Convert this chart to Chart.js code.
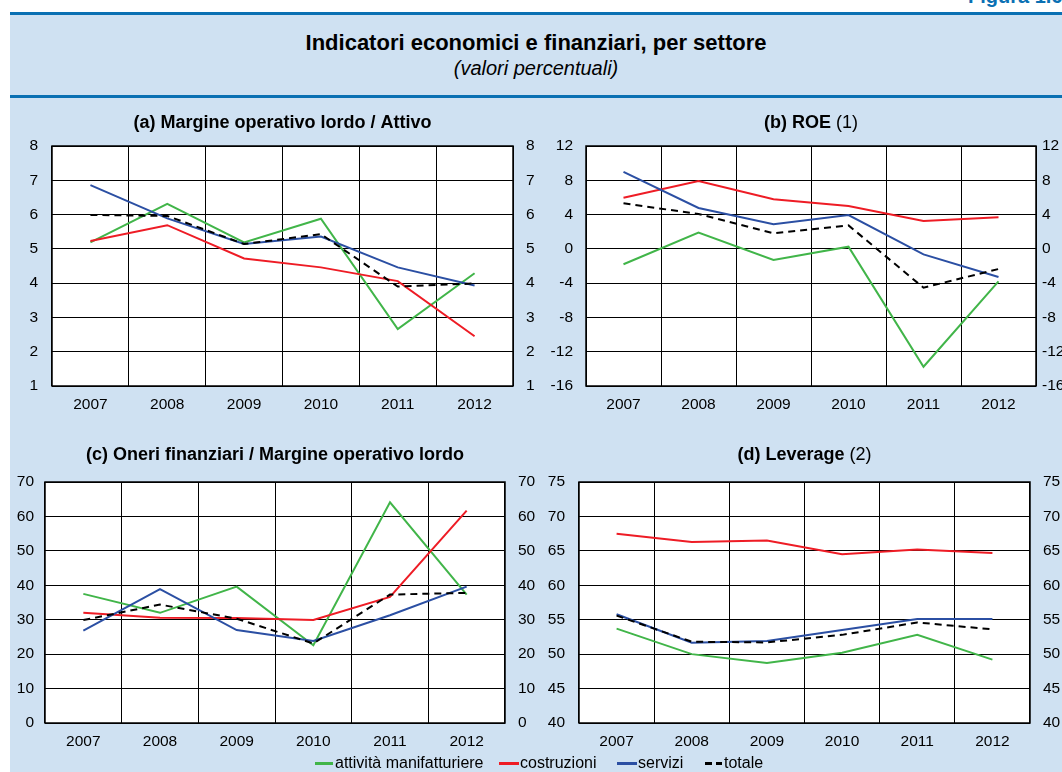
<!DOCTYPE html>
<html>
<head>
<meta charset="utf-8">
<script src="https://cdn.jsdelivr.net/npm/chart.js@4.4.0/dist/chart.umd.min.js"></script>
<style>
    body { margin: 0; width: 1062px; height: 772px; overflow: hidden; background: #fff; position: relative; font-family: "Liberation Sans", Arial, sans-serif; }
    #bg { position: absolute; left: 10px; top: 12px; width: 1052px; height: 760px; background: #cfe1f2; border-top: 3px solid #0a70b3; box-sizing: border-box; }
    #sep { position: absolute; left: 10px; top: 95px; width: 1052px; height: 3px; background: #0a70b3; }
    #fig { position: absolute; left: 968px; top: -15px; font-weight: bold; font-size: 20px; color: #0a70b3; white-space: nowrap; }
    #title { position: absolute; left: 10px; width: 1052px; top: 30px; text-align: center; font-weight: bold; font-size: 22px; line-height: 26px; color: #000; }
    #subtitle { position: absolute; left: 10px; width: 1052px; top: 56px; text-align: center; font-style: italic; font-size: 20px; line-height: 24px; color: #000; }
    canvas { position: absolute; }
    .sw { position: absolute; top: 762px; height: 3px; }
    .lt { position: absolute; top: 754px; font-size: 16px; line-height: 18px; color: #000; white-space: nowrap; }
</style>
</head>
<body>
<div id="bg"></div>
<div id="sep"></div>
<div id="fig">Figura 1.6</div>
<div id="title">Indicatori economici e finanziari, per settore</div>
<div id="subtitle">(valori percentuali)</div>

<canvas id="chartA" width="550" height="320" style="left:0px; top:100px;"></canvas>
<canvas id="chartB" width="542" height="320" style="left:520px; top:100px;"></canvas>
<canvas id="chartC" width="550" height="330" style="left:0px; top:430px;"></canvas>
<canvas id="chartD" width="542" height="330" style="left:520px; top:430px;"></canvas>

<div class="sw" style="left:315px; width:18px; background:#41b549;"></div>
<div class="lt" style="left:335px;">attività manifatturiere</div>
<div class="sw" style="left:499px; width:20px; background:#ee1c25;"></div>
<div class="lt" style="left:520px;">costruzioni</div>
<div class="sw" style="left:617px; width:20px; background:#2b4fa3;"></div>
<div class="lt" style="left:638px;">servizi</div>
<div class="sw" style="left:705px; width:7px; background:#000;"></div>
<div class="sw" style="left:716px; width:6px; background:#000;"></div>
<div class="lt" style="left:724px;">totale</div>

<script>
// Categories and series names
const years = ["2007", "2008", "2009", "2010", "2011", "2012"];
const seriesNames = ["attività manifatturiere", "costruzioni", "servizi", "totale"];

// (a) Margine operativo lordo / Attivo
const molManif = [5.19, 6.31, 5.19, 5.88, 2.66, 4.29];
const molCostr = [5.23, 5.69, 4.72, 4.46, 4.06, 2.45];
const molServ = [6.86, 5.89, 5.14, 5.36, 4.46, 3.93];
const molTot = [5.99, 5.96, 5.14, 5.43, 3.90, 3.99];

// (b) ROE
const roeManif = [-1.8, 1.9, -1.3, 0.25, -13.75, -3.8];
const roeCostr = [5.97, 7.92, 5.78, 5.0, 3.25, 3.68];
const roeServ = [8.97, 4.77, 2.86, 3.95, -0.64, -3.29];
const roeTot = [5.31, 4.07, 1.81, 2.74, -4.53, -2.35];

// (c) Oneri finanziari / Margine operativo lordo
const onManif = [37.5, 32.0, 39.6, 22.6, 64.1, 37.3];
const onCostr = [32.0, 30.6, 30.5, 29.9, 36.6, 61.7];
const onServ = [26.8, 38.9, 27.0, 23.8, 31.3, 39.6];
const onTot = [29.9, 34.4, 30.3, 23.1, 37.3, 37.8];

// (d) Leverage
const levManif = [53.7, 50.0, 48.7, 50.2, 52.8, 49.2];
const levCostr = [67.5, 66.3, 66.5, 64.5, 65.2, 64.7];
const levServ = [55.8, 51.65, 51.9, 53.5, 55.1, 55.1];
const levTot = [55.6, 51.8, 51.7, 52.8, 54.6, 53.6];

const colors = ["#41b549", "#ee1c25", "#2b4fa3", "#000000"];

Chart.defaults.font.family = '"Liberation Sans", Arial, sans-serif';
Chart.defaults.font.size = 15.5;
Chart.defaults.color = "#000";

// White plot area with black frame, plus the panel title
function panelPlugin(titleParts, titleY) {
    return {
        id: "panel",
        beforeDraw(chart) {
            const a = chart.chartArea;
            const ctx = chart.ctx;
            ctx.save();
            ctx.fillStyle = "#fff";
            ctx.fillRect(a.left, a.top, a.right - a.left, a.bottom - a.top);
            ctx.restore();
        },
        afterDraw(chart) {
            const a = chart.chartArea;
            const ctx = chart.ctx;
            ctx.save();
            ctx.strokeStyle = "#000";
            ctx.lineWidth = 1.5;
            ctx.strokeRect(a.left, a.top, a.right - a.left, a.bottom - a.top);

            // Title, centred over the plot area
            const fam = '"Liberation Sans", Arial, sans-serif';
            let total = 0;
            const widths = titleParts.map((p) => {
                ctx.font = (p.bold ? "bold " : "") + "18px " + fam;
                const w = ctx.measureText(p.text).width;
                total += w;
                return w;
            });
            let x = (a.left + a.right) / 2 - total / 2;
            ctx.fillStyle = "#000";
            ctx.textBaseline = "middle";
            ctx.textAlign = "left";
            titleParts.forEach((p, i) => {
                ctx.font = (p.bold ? "bold " : "") + "18px " + fam;
                ctx.fillText(p.text, x, titleY);
                x += widths[i];
            });
            ctx.restore();
        },
    };
}

function makePanel(id, cfg) {
    const datasets = cfg.values.map((v, i) => ({
        label: seriesNames[i],
        data: v,
        borderColor: colors[i],
        backgroundColor: colors[i],
        borderWidth: 2,
        borderDash: i === 3 ? [7, 5] : [],
        pointRadius: 0,
        tension: 0,
        fill: false,
        order: i === 3 ? 0 : 4 - i,
    }));

    new Chart(document.getElementById(id), {
        type: "line",
        data: { labels: years, datasets: datasets },
        options: {
            responsive: false,
            animation: false,
            layout: { padding: { top: cfg.top, left: 0, right: 0, bottom: 0 } },
            plugins: { legend: { display: false }, tooltip: { enabled: false } },
            scales: {
                x: {
                    offset: true,
                    grid: { offset: true, color: "#000", lineWidth: 1, drawTicks: false },
                    border: { display: false },
                    ticks: { padding: 9, maxRotation: 0, autoSkip: false },
                    afterFit(s) { s.height = cfg.xh; },
                },
                y: {
                    position: "left",
                    min: cfg.min,
                    max: cfg.max,
                    ticks: { stepSize: cfg.step, padding: cfg.lpad },
                    grid: { color: "#000", lineWidth: 1, drawTicks: false },
                    border: { display: false },
                    afterFit(s) { s.width = cfg.lw; },
                },
                y2: {
                    position: "right",
                    min: cfg.min,
                    max: cfg.max,
                    ticks: { stepSize: cfg.step, padding: cfg.rpad },
                    grid: { display: false, drawTicks: false },
                    border: { display: false },
                    afterFit(s) { s.width = cfg.rw; },
                },
            },
        },
        plugins: [panelPlugin(cfg.title, cfg.titleY)],
    });
}

makePanel("chartA", {
    values: [molManif, molCostr, molServ, molTot],
    title: [{ text: "(a) Margine operativo lordo / Attivo", bold: true }],
    titleY: 23, top: 46, xh: 34, lw: 52, rw: 37, lpad: 14, rpad: 13,
    min: 1, max: 8, step: 1,
});

makePanel("chartB", {
    values: [roeManif, roeCostr, roeServ, roeTot],
    title: [{ text: "(b) ROE", bold: true }, { text: " (1)", bold: false }],
    titleY: 23, top: 46, xh: 34, lw: 66, rw: 26, lpad: 13, rpad: 6,
    min: -16, max: 12, step: 4,
});

makePanel("chartC", {
    values: [onManif, onCostr, onServ, onTot],
    title: [{ text: "(c) Oneri finanziari / Margine operativo lordo", bold: true }],
    titleY: 25, top: 52, xh: 37, lw: 45, rw: 45, lpad: 11, rpad: 13,
    min: 0, max: 70, step: 10,
});

makePanel("chartD", {
    values: [levManif, levCostr, levServ, levTot],
    title: [{ text: "(d) Leverage", bold: true }, { text: " (2)", bold: false }],
    titleY: 25, top: 52, xh: 37, lw: 59, rw: 32, lpad: 14, rpad: 13,
    min: 40, max: 75, step: 5,
});
</script>
</body>
</html>
